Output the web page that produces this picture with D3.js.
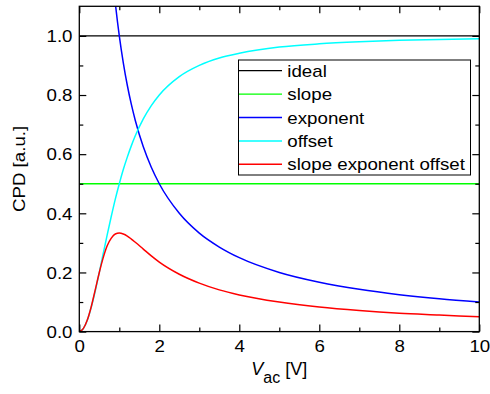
<!DOCTYPE html>
<html>
<head>
<meta charset="utf-8">
<script src="https://cdn.jsdelivr.net/npm/d3@7"></script>
<style>
  body { margin: 0; background: #fff; }
  text { font-family: "Liberation Sans", Arial, sans-serif; fill: #000; }
</style>
</head>
<body>
<svg id="chart" width="490" height="394"></svg>
<script>
// Values
const vac = [0, 0.1, 0.2, 0.3, 0.4, 0.5, 0.6, 0.7, 0.8, 0.9, 1.0, 1.1, 1.2, 1.3, 1.4, 1.6, 1.8, 2.0, 2.5, 3, 3.5, 4, 5, 6, 7, 8, 9, 10];
const offsetCPD = [0, 0.010, 0.038, 0.083, 0.138, 0.200, 0.265, 0.329, 0.390, 0.448, 0.500, 0.548, 0.590, 0.628, 0.662, 0.719, 0.764, 0.800, 0.862, 0.900, 0.925, 0.941, 0.962, 0.973, 0.980, 0.985, 0.988, 0.990];
const combinedCPD = [0, 0.010, 0.039, 0.085, 0.142, 0.200, 0.251, 0.291, 0.316, 0.330, 0.333, 0.330, 0.323, 0.313, 0.302, 0.279, 0.256, 0.235, 0.194, 0.164, 0.141, 0.124, 0.100, 0.083, 0.071, 0.062, 0.056, 0.050];

const exponentVac = [0.85, 0.9, 1.0, 1.1, 1.2, 1.3, 1.4, 1.6, 1.8, 2.0, 2.5, 3, 3.5, 4, 5, 6, 7, 8, 9, 10];
const exponentCPD = [1.176, 1.111, 1.000, 0.909, 0.833, 0.769, 0.714, 0.625, 0.556, 0.500, 0.400, 0.333, 0.286, 0.250, 0.200, 0.167, 0.143, 0.125, 0.111, 0.100];

const flatVac = [0, 10];
const idealCPD = [1, 1];
const slopeCPD = [0.5, 0.5];

const seriesNames = ['ideal', 'slope', 'exponent', 'offset', 'slope exponent offset'];
const seriesColors = ['#000000', '#00ff00', '#0000ff', '#00ffff', '#ff0000'];

const xMajor = [0, 2, 4, 6, 8, 10];
const xMinor = [1, 3, 5, 7, 9];
const yMajor = [0, 0.2, 0.4, 0.6, 0.8, 1.0];
const yMinor = [0.1, 0.3, 0.5, 0.7, 0.9];

const svg = d3.select('#chart');
const plotLeft = 79.3, plotRight = 479.3, plotTop = 6.3, plotBottom = 331.6;
const stretch = 1.17; // glyphs in the reference are wider than Arial

const x = d3.scaleLinear().domain([0, 10]).range([plotLeft, plotRight]);
const y = d3.scaleLinear().domain([0, 1.1]).range([plotBottom, plotTop]);

svg.append('rect').attr('width', 490).attr('height', 394).attr('fill', '#fff');

svg.append('clipPath').attr('id', 'plot-clip')
  .append('rect')
  .attr('x', plotLeft).attr('y', plotTop)
  .attr('width', plotRight - plotLeft).attr('height', plotBottom - plotTop);

// Build series from the arrays
const series = [
  { xs: flatVac, ys: idealCPD, width: 1.2 },
  { xs: flatVac, ys: slopeCPD, width: 1.4 },
  { xs: exponentVac, ys: exponentCPD, width: 1.5 },
  { xs: vac, ys: offsetCPD, width: 1.5 },
  { xs: vac, ys: combinedCPD, width: 1.5 },
];

const line = d3.line()
  .x(d => x(d[0]))
  .y(d => y(d[1]))
  .curve(d3.curveMonotoneX);

const plot = svg.append('g').attr('clip-path', 'url(#plot-clip)');
series.forEach((s, i) => {
  plot.append('path')
    .datum(s.xs.map((v, j) => [v, s.ys[j]]))
    .attr('d', line)
    .attr('fill', 'none')
    .attr('stroke', seriesColors[i])
    .attr('stroke-width', s.width);
});

// Axes: ticks point inward on all four sides
function addAxis(axis, transform) {
  const g = svg.append('g').attr('transform', transform).call(axis);
  g.select('.domain').remove();
  g.selectAll('.tick line').attr('stroke', '#000').attr('stroke-width', 1.2);
  g.selectAll('.tick text')
    .attr('font-size', 16)
    .attr('font-family', '"Liberation Sans", Arial, sans-serif')
    .attr('fill', '#000')
    .attr('transform', `scale(${stretch},1)`);
  return g;
}

addAxis(d3.axisBottom(x).tickValues(xMajor).tickSize(-7).tickPadding(9.5).tickFormat(d3.format('d')), `translate(0,${plotBottom})`);
addAxis(d3.axisBottom(x).tickValues(xMinor).tickSize(-4).tickFormat(''), `translate(0,${plotBottom})`);
addAxis(d3.axisTop(x).tickValues(xMajor).tickSize(-7).tickFormat(''), `translate(0,${plotTop})`);
addAxis(d3.axisTop(x).tickValues(xMinor).tickSize(-4).tickFormat(''), `translate(0,${plotTop})`);
addAxis(d3.axisLeft(y).tickValues(yMajor).tickSize(-7).tickPadding(5.8).tickFormat(d3.format('.1f')), `translate(${plotLeft},0)`)
  .selectAll('.tick text').attr('dy', '0.36em');
addAxis(d3.axisLeft(y).tickValues(yMinor).tickSize(-4).tickFormat(''), `translate(${plotLeft},0)`);
addAxis(d3.axisRight(y).tickValues(yMajor).tickSize(-7).tickFormat(''), `translate(${plotRight},0)`);
addAxis(d3.axisRight(y).tickValues(yMinor).tickSize(-4).tickFormat(''), `translate(${plotRight},0)`);

// Frame
svg.append('rect')
  .attr('x', plotLeft).attr('y', plotTop)
  .attr('width', plotRight - plotLeft).attr('height', plotBottom - plotTop)
  .attr('fill', 'none')
  .attr('stroke', '#000')
  .attr('stroke-width', 1.3);

// Legend
const legend = svg.append('g');
legend.append('rect')
  .attr('x', 238.5).attr('y', 60)
  .attr('width', 232).attr('height', 115)
  .attr('fill', '#fff')
  .attr('stroke', '#000')
  .attr('stroke-width', 1);

seriesNames.forEach((name, i) => {
  const rowY = 70.7 + i * 23.4;
  legend.append('line')
    .attr('x1', 239).attr('x2', 282)
    .attr('y1', rowY).attr('y2', rowY)
    .attr('stroke', seriesColors[i])
    .attr('stroke-width', series[i].width);
  legend.append('g')
    .attr('transform', `translate(287.3,${rowY + 6}) scale(${stretch},1)`)
    .append('text')
    .attr('font-size', 16)
    .text(name);
});

// Axis titles
svg.append('g')
  .attr('transform', `translate(25,${(plotTop + plotBottom) / 2}) rotate(-90) scale(${stretch},1)`)
  .append('text')
  .attr('text-anchor', 'middle')
  .attr('font-size', 16)
  .text('CPD [a.u.]');

const xTitle = svg.append('text')
  .attr('x', (plotLeft + plotRight) / 2)
  .attr('y', 375)
  .attr('text-anchor', 'middle')
  .attr('font-size', 18);
xTitle.append('tspan').attr('font-style', 'italic').text('V');
xTitle.append('tspan').attr('font-size', 16).attr('dy', 8).text('ac');
xTitle.append('tspan').attr('dy', -8).text(' [V]');
</script>
</body>
</html>
